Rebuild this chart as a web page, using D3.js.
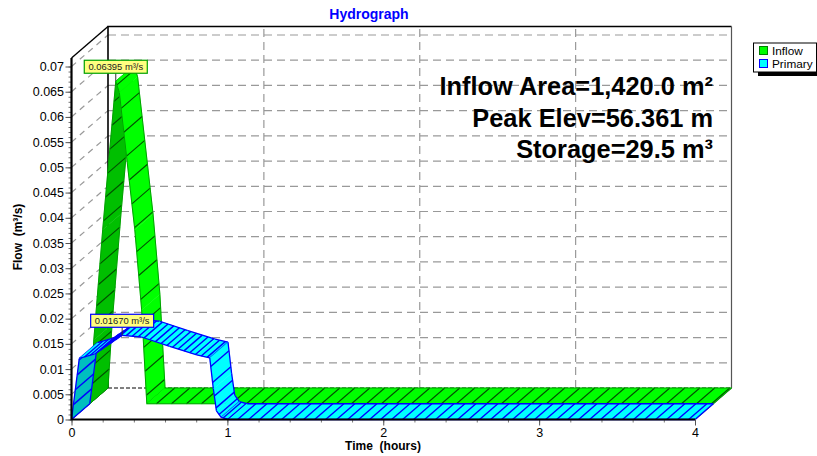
<!DOCTYPE html>
<html><head><meta charset="utf-8">
<style>html,body{margin:0;padding:0;background:#fff}svg{display:block}text{font-family:"Liberation Sans",Arial,sans-serif;fill:#000;white-space:pre}</style>
<script src="https://cdn.jsdelivr.net/npm/d3@7"></script></head><body><script>
const titleText = "Hydrograph";
const xTitle = "Time  (hours)";
const yTitle = "Flow  (m³/s)";
const seriesNames = ["Inflow", "Primary"];
const annotations = ["Inflow Area=1,420.0 m²", "Peak Elev=56.361 m", "Storage=29.5 m³"];
const xTicks = [0, 1, 2, 3, 4];
const xMinorTicks = d3.range(0, 21).map(i => i / 5);
const yTickLabels = ["0","0.005","0.01","0.015","0.02","0.025","0.03","0.035","0.04","0.045","0.05","0.055","0.06","0.065","0.07"];
const yMinorTicks = d3.range(0, 71).map(i => i / 1000);
const inflowTime = [0, 0.026, 0.083, 0.167, 0.19, 0.289, 0.333, 0.366, 4];
const inflowFlow = [0, 0.01265, 0.0345, 0.06395, 0.0617, 0.0345, 0.0186, 0, 0];
const inflowHatch = [19, 21, 24, 24, 24, 24, 24, 15];
const primaryTime = [0, 0.05, 0.15, 0.325, 0.449, 0.63, 0.804, 0.887, 0.91, 0.93, 0.96, 1.01, 4];
const primaryFlow = [0, 0.0121, 0.013, 0.0167, 0.01636, 0.0145, 0.0128, 0.0122, 0.00605, 0.0017, 0.0004, 0, 0];
const primaryHatch = [15, 6, 6, 6, 6, 6, 6, 16, 12, 6, 5, 11];
const peakLabels = ["0.06395 m³/s", "0.01670 m³/s"];

const W = 817, H = 456;
const depth = [36.5, -31.5];
const x = d3.scaleLinear().domain([0, 4]).range([71.5, 695]);
const y = d3.scaleLinear().domain([0, 0.07]).range([419.5, 66.5]);
const svg = d3.select("body").append("svg").attr("width", W).attr("height", H);
const P = (t, q, z) => [x(t) + depth[0] * z, y(q) + depth[1] * z];
const line = d3.line();
const GRID = "#999";
const yMaxWall = y.invert(58);

// back wall
const wall = svg.append("g").attr("fill", "none");
yTickLabels.forEach((_, i) => {
  const q = i * 0.005;
  if (i > 0) wall.append("path").attr("d", line([P(0, q, 1), P(4, q, 1)])).attr("stroke", GRID).attr("stroke-width", 1.2).attr("stroke-dasharray", "8 5");
  if (i > 0) wall.append("path").attr("d", line([P(0, q, 0), P(0, q, 1)])).attr("stroke", GRID).attr("stroke-width", 1.2).attr("stroke-dasharray", "6 5");
});
xTicks.slice(1, 4).forEach(t => wall.append("path").attr("d", line([P(t, 0, 1), P(t, yMaxWall, 1)])).attr("stroke", GRID).attr("stroke-width", 1.2).attr("stroke-dasharray", "8 5"));
wall.append("path").attr("d", line([P(0, 0, 1), P(4, 0, 1)])).attr("stroke", "#000").attr("stroke-dasharray", "4 2");
wall.append("path").attr("d", line([P(0, 0, 1), P(0, yMaxWall, 1), P(4, yMaxWall, 1)])).attr("stroke", "#000").attr("stroke-width", 1.6);
wall.append("path").attr("d", line([P(4, yMaxWall, 1), P(4, 0, 1), P(4, 0, 0)])).attr("stroke", "#555").attr("stroke-width", 1.2);
wall.append("path").attr("d", line([P(0, yMaxWall, 0), P(0, yMaxWall, 1)])).attr("stroke", "#000").attr("stroke-width", 1.4);
wall.append("path").attr("d", line([P(0, 0, 0), P(0, 0, 1)])).attr("stroke", "#000");

function ribbon(times, flows, hatch, z0, z1, c) {
  const g = svg.append("g");
  const n = times.length;
  const off = [depth[0] * (z1 - z0), depth[1] * (z1 - z0)];
  const isTop = (a, b) => (b[0] - a[0]) * off[1] - (b[1] - a[1]) * off[0] <= 0;
  const front = times.map((t, i) => P(t, flows[i], z0));
  const back = times.map((t, i) => P(t, flows[i], z1));
  const seg = (p, q) => g.append("path").attr("d", line([p, q])).attr("stroke", c.edge).attr("stroke-width", c.w).attr("fill", "none");
  let phase = 0;
  for (let i = 0; i < n - 1; i++) {
    const a = front[i], b = front[i + 1], a2 = back[i], b2 = back[i + 1];
    const fill = isTop(a, b) ? c.bright : c.dark;
    g.append("path").attr("d", line([a, b, b2, a2]) + "Z").attr("fill", fill).attr("stroke", fill).attr("stroke-width", 0.4);
    const len = Math.hypot(b[0] - a[0], b[1] - a[1]);
    const units = len / hatch[i];
    for (let k = Math.ceil(phase); k < phase + units; k++) {
      if (k === 0) continue;
      const f = (k - phase) / units;
      const u = [a[0] + (b[0] - a[0]) * f, a[1] + (b[1] - a[1]) * f];
      g.append("path").attr("d", line([u, [u[0] + off[0], u[1] + off[1]]])).attr("stroke", c.hatch).attr("stroke-width", c.hw).attr("fill", "none");
    }
    phase += units;
    seg(a, b);
    seg(a2, b2);
    if (i === 0) seg(a, a2);
    if (i < n - 2) {
      const c0 = front[i + 2];
      const turn = Math.abs(Math.atan2(b[1] - a[1], b[0] - a[0]) - Math.atan2(c0[1] - b[1], c0[0] - b[0]));
      if (turn > 0.6) seg(b, b2);
    } else seg(b, b2);
  }
}
ribbon(inflowTime, inflowFlow, inflowHatch, 0.5, 1, { bright: "#00ff00", dark: "#00bf00", hatch: "#005000", edge: "#00a000", w: 1, hw: 1.1 });
ribbon(primaryTime, primaryFlow, primaryHatch, 0, 0.5, { bright: "#00ffff", dark: "#00bfbf", hatch: "#0000ff", edge: "#0000ff", w: 1.3, hw: 1.4 });

// axes
const axY = svg.append("g").attr("transform", `translate(${x(0)},0)`);
axY.call(d3.axisLeft(y).tickValues(yMinorTicks).tickSize(3).tickFormat(""));
axY.select(".domain").remove();
axY.selectAll(".tick line").attr("stroke", "#777");
const axYM = svg.append("g").attr("transform", `translate(${x(0)},0)`);
axYM.call(d3.axisLeft(y).tickValues(yTickLabels.map(Number)).tickSize(6).tickPadding(1.5).tickFormat((d, i) => yTickLabels[i]));
axYM.select(".domain").remove();
axYM.selectAll(".tick line").attr("stroke", "#555");
axYM.selectAll("text").attr("font-size", 12.5).attr("font-family", '"Liberation Sans"');
const axX = svg.append("g").attr("transform", `translate(0,${y(0)})`);
axX.call(d3.axisBottom(x).tickValues(xMinorTicks).tickSize(3).tickFormat(""));
axX.select(".domain").remove();
axX.selectAll(".tick line").attr("stroke", "#777");
const axXM = svg.append("g").attr("transform", `translate(0,${y(0)})`);
axXM.call(d3.axisBottom(x).tickValues(xTicks).tickSize(6).tickPadding(2.5).tickFormat(d3.format("d")));
axXM.select(".domain").remove();
axXM.selectAll(".tick line").attr("stroke", "#555");
axXM.selectAll("text").attr("font-size", 12.5).attr("font-family", '"Liberation Sans"');
svg.append("path").attr("d", line([P(0, yMaxWall, 0), P(0, 0, 0), P(4, 0, 0)])).attr("fill", "none").attr("stroke", "#000").attr("stroke-width", 2.2);

// peak labels
function peak(t, q, z, txt, stroke) {
  const p = P(t, q, z);
  const bw = 63, bh = 13;
  const top = p[1] - 8 - bh;
  svg.append("path").attr("d", line([[p[0], top + bh], p])).attr("stroke", "#333").attr("fill", "none");
  svg.append("rect").attr("x", p[0] - bw / 2).attr("y", top).attr("width", bw).attr("height", bh).attr("fill", "#ffff80").attr("stroke", stroke).attr("stroke-width", 1.2);
  svg.append("text").attr("x", p[0]).attr("y", top + 9.8).attr("text-anchor", "middle").attr("font-size", 9.4).style("fill", "#222").text(txt);
}
peak(inflowTime[3], inflowFlow[3], 0.5, peakLabels[0], "#00a000");
peak(primaryTime[3], primaryFlow[3], 0, peakLabels[1], "#0000ff");

// annotations
annotations.forEach((s, i) => svg.append("text").attr("x", 713).attr("y", 95 + i * 31.7).attr("text-anchor", "end").attr("font-size", 25.4).attr("font-weight", "bold").text(s));

// titles
svg.append("text").attr("x", 369).attr("y", 19).attr("text-anchor", "middle").attr("font-size", 14).attr("font-weight", "bold").style("fill", "#0000ff").text(titleText);
svg.append("text").attr("x", 383).attr("y", 450).attr("text-anchor", "middle").attr("font-size", 12).attr("font-weight", "bold").text(xTitle);
svg.append("text").attr("transform", "translate(22,237) rotate(-90)").attr("text-anchor", "middle").attr("font-size", 12).attr("font-weight", "bold").text(yTitle);

// legend
svg.append("rect").attr("x", 758).attr("y", 46).attr("width", 59).attr("height", 30).attr("fill", "#000");
svg.append("rect").attr("x", 753.5).attr("y", 43).attr("width", 63).attr("height", 29).attr("fill", "#fff").attr("stroke", "#000");
const legendFill = ["#00ff00", "#00ffff"], legendEdge = ["#008000", "#0000ff"];
seriesNames.forEach((s, i) => {
  svg.append("rect").attr("x", 759.5).attr("y", 46.5 + i * 13).attr("width", 8).attr("height", 8).attr("fill", legendFill[i]).attr("stroke", legendEdge[i]);
  svg.append("text").attr("x", 772).attr("y", 55 + i * 12.5).attr("font-size", 11.8).text(s);
});
</script></body></html>
